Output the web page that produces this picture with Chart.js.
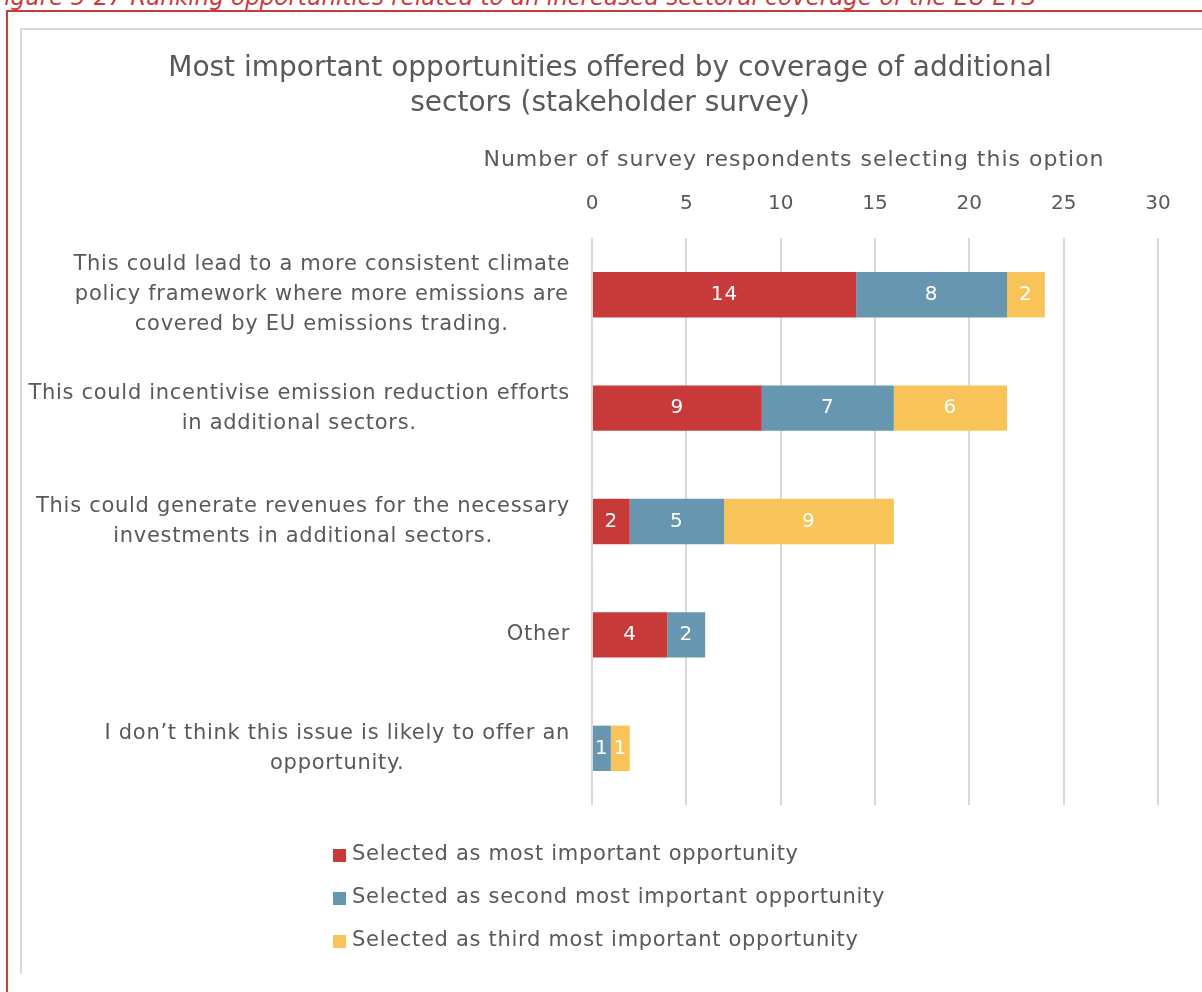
<!DOCTYPE html>
<html>
<head>
<meta charset="utf-8">
<script src="https://cdn.jsdelivr.net/npm/chart.js@4.4.1/dist/chart.umd.min.js"></script>
<style>
  html, body { margin: 0; padding: 0; background: #fff; overflow: hidden; }
  body { width: 1202px; height: 992px; position: relative; }
  #caption { position: absolute; left: -9px; top: -16px; font: italic 23px 'DejaVu Sans', sans-serif; color: #d0393b; white-space: nowrap; }
  #frame { position: absolute; left: 6px; top: 10px; width: 1300px; height: 1100px; border-left: 2px solid #cc3a3a; border-top: 2px solid #cc3a3a; }
  #plot-box { position: absolute; left: 20px; top: 28px; width: 1300px; height: 944px; border-left: 2px solid #d9d9d9; border-top: 2px solid #d9d9d9; }
  canvas { position: absolute; left: 0; top: 0; }
</style>
</head>
<body>
<div id="caption">Figure 5-27 Ranking opportunities related to an increased sectoral coverage of the EU ETS</div>
<div id="frame"></div>
<div id="plot-box"></div>
<canvas id="chart" width="1202" height="992"></canvas>
<script>
// Survey answers, one entry per option (top to bottom)
const categories = [
    ['This could lead to a more consistent climate', 'policy framework where more emissions are', 'covered by EU emissions trading.'],
    ['This could incentivise emission reduction efforts', 'in additional sectors.'],
    ['This could generate revenues for the necessary', 'investments in additional sectors.'],
    ['Other'],
    ['I don\u2019t think this issue is likely to offer an', 'opportunity.']
];
const mostImportant = [14, 9, 2, 4, 0];
const secondMost = [8, 7, 5, 2, 1];
const thirdMost = [2, 6, 9, 0, 1];
const seriesNames = [
    'Selected as most important opportunity',
    'Selected as second most important opportunity',
    'Selected as third most important opportunity'
];
const xTicks = [0, 5, 10, 15, 20, 25, 30];
const titleLines = ['Most important opportunities offered by coverage of additional', 'sectors (stakeholder survey)'];
const axisTitle = 'Number of survey respondents selecting this option';

const FONT = "'DejaVu Sans', sans-serif";
const TEXT = '#595959';
const colors = ['#c83a3a', '#6797b0', '#f8c358'];

// Category labels, axis title, segment values and the stacked legend
const surveyText = {
    id: 'surveyText',
    afterDraw(chart) {
        const ctx = chart.ctx;
        const yScale = chart.scales.y;
        ctx.save();

        // category labels: block right-aligned, lines centred inside it
        ctx.font = '21px ' + FONT;
        ctx.letterSpacing = '0.7px';
        ctx.fillStyle = TEXT;
        ctx.textAlign = 'center';
        ctx.textBaseline = 'middle';
        const lh = 30;
        categories.forEach((lines, i) => {
            const yc = yScale.getPixelForTick(i);
            const blockW = Math.max(...lines.map(l => ctx.measureText(l).width));
            const cx = 570 - blockW / 2;
            lines.forEach((l, k) => {
                ctx.fillText(l, cx, yc + (k - (lines.length - 1) / 2) * lh);
            });
        });

        // axis title
        ctx.font = '22px ' + FONT;
        ctx.letterSpacing = '1px';
        ctx.fillText(axisTitle, 794, 160);

        // values inside segments
        ctx.font = '20px ' + FONT;
        ctx.letterSpacing = '1px';
        ctx.fillStyle = '#ffffff';
        chart.data.datasets.forEach((ds, di) => {
            const meta = chart.getDatasetMeta(di);
            meta.data.forEach((bar, i) => {
                const v = ds.data[i];
                if (!v) return;
                const p = bar.getProps(['x', 'y', 'base'], true);
                ctx.fillText(String(v), (p.x + p.base) / 2, p.y);
            });
        });

        // legend, one entry per row
        const rows = [855, 898, 941];
        ctx.font = '21px ' + FONT;
        ctx.letterSpacing = '0.7px';
        ctx.textAlign = 'left';
        chart.data.datasets.forEach((ds, di) => {
            const y = rows[di];
            ctx.fillStyle = ds.backgroundColor;
            ctx.fillRect(333, y - 6, 13, 13);
            ctx.fillStyle = TEXT;
            ctx.fillText(ds.label, 352, y);
        });
        ctx.restore();
    }
};

new Chart(document.getElementById('chart'), {
    type: 'bar',
    data: {
        labels: categories,
        datasets: [
            { label: seriesNames[0], data: mostImportant, backgroundColor: colors[0] },
            { label: seriesNames[1], data: secondMost, backgroundColor: colors[1] },
            { label: seriesNames[2], data: thirdMost, backgroundColor: colors[2] }
        ]
    },
    options: {
        indexAxis: 'y',
        responsive: false,
        animation: false,
        devicePixelRatio: 1,
        barPercentage: 0.8,
        categoryPercentage: 0.5,
        layout: { padding: { left: 62, right: 44, top: 0, bottom: 187 } },
        plugins: {
            legend: { display: false },
            tooltip: { enabled: false },
            title: {
                display: true,
                text: titleLines,
                color: TEXT,
                font: { family: FONT, size: 28, weight: 'normal', lineHeight: 1.25 },
                padding: { top: 51, bottom: 49 }
            }
        },
        scales: {
            x: {
                position: 'top',
                stacked: true,
                min: 0,
                max: 30,
                afterBuildTicks: s => { s.ticks = xTicks.map(v => ({ value: v })); },
                ticks: { color: TEXT, font: { family: FONT, size: 20 }, padding: 22 },
                grid: { color: '#d9d9d9', lineWidth: 2, drawTicks: false },
                border: { display: false }
            },
            y: {
                stacked: true,
                ticks: { display: false },
                grid: { display: false },
                border: { display: false },
                afterFit: s => { s.width = 530; }
            }
        }
    },
    plugins: [surveyText]
});
</script>
</body>
</html>
